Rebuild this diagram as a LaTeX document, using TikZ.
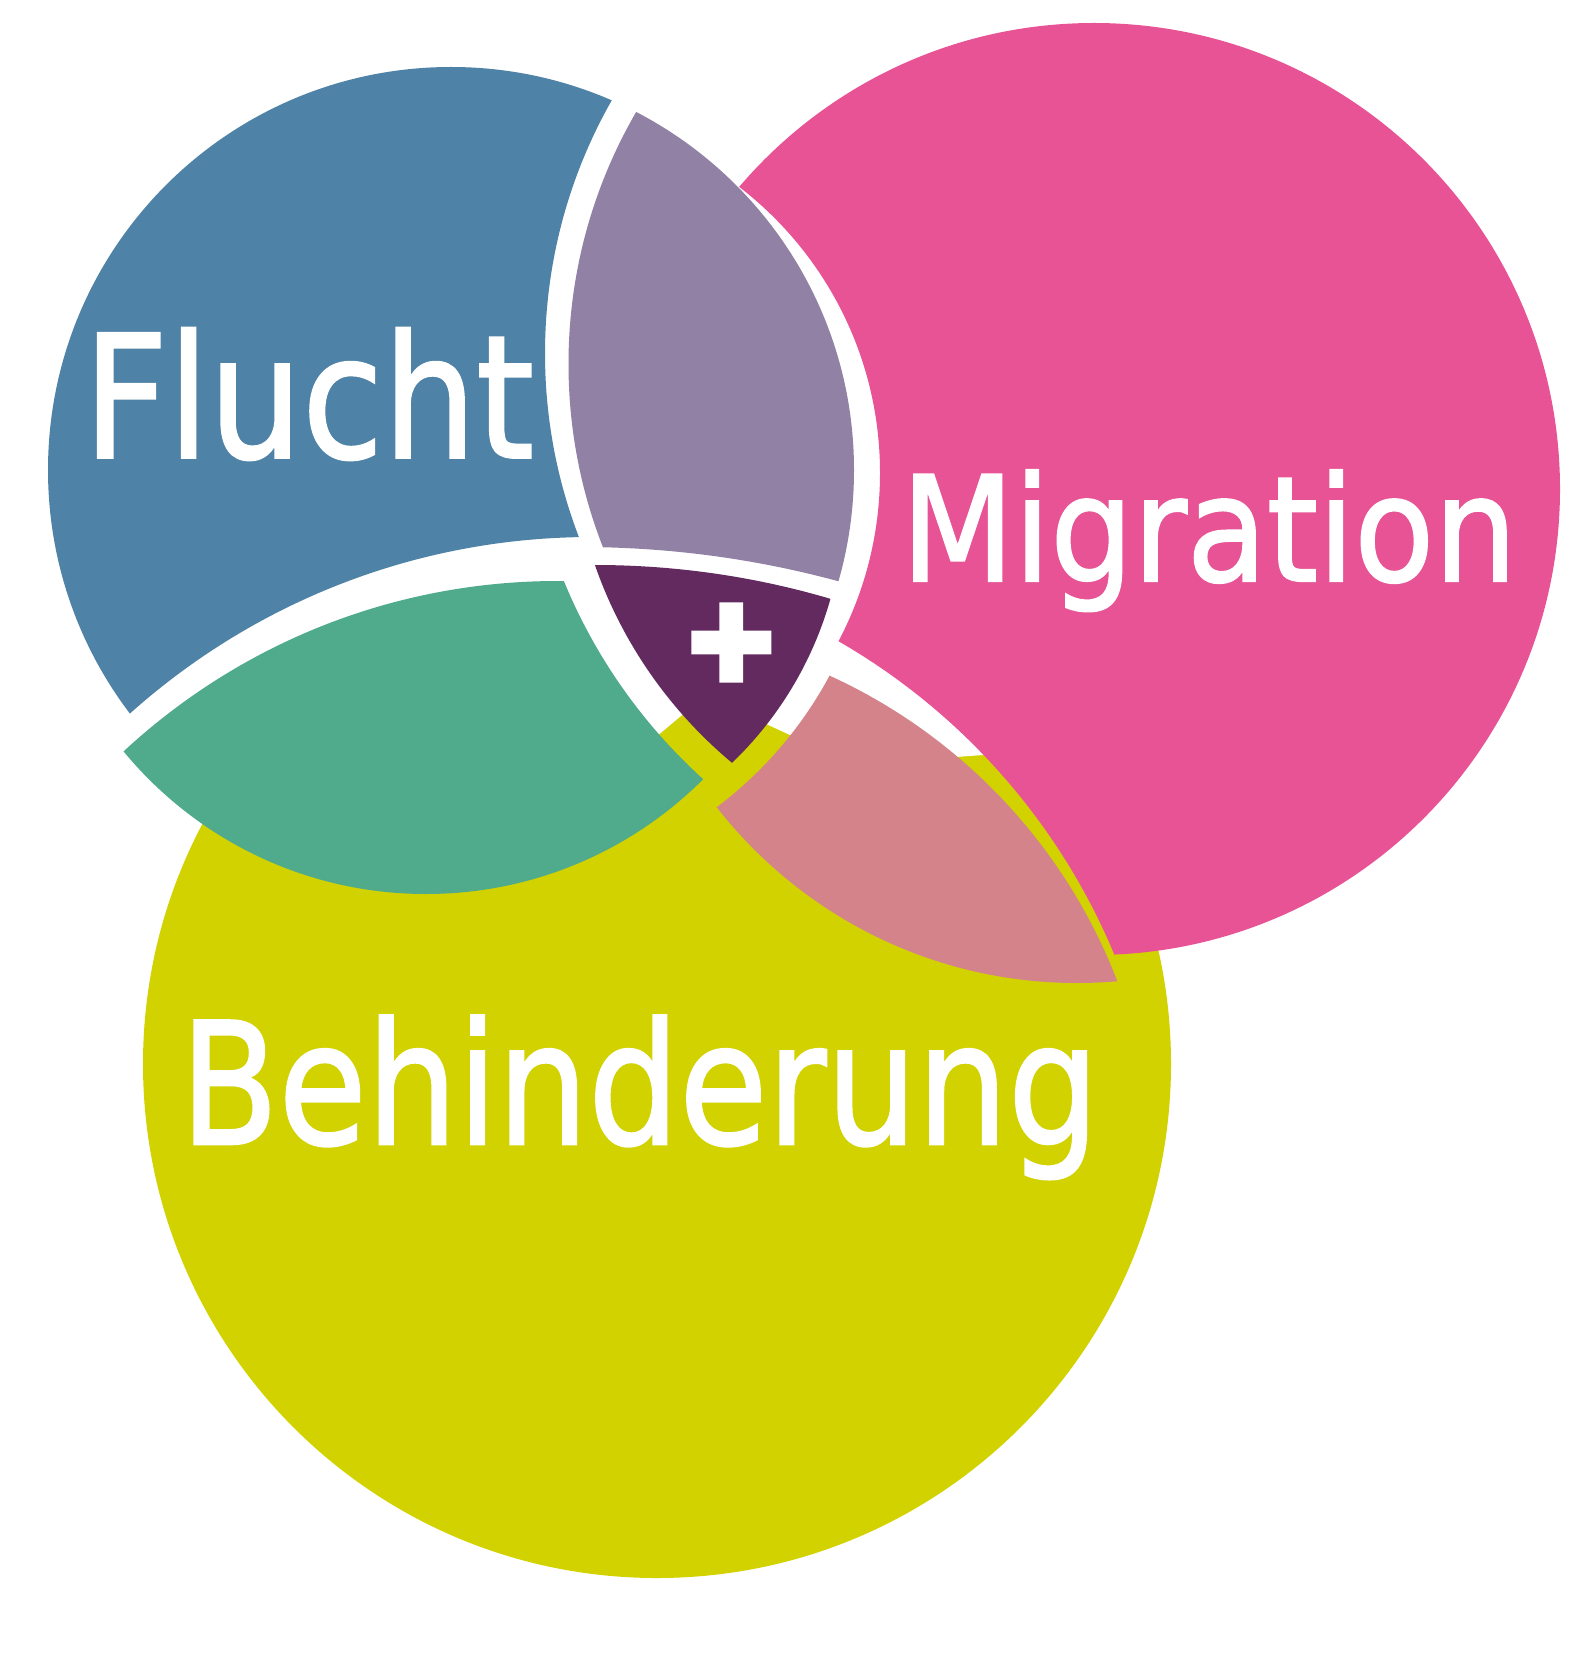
\documentclass[tikz,border=0pt]{standalone}
\usepackage{fontspec}
\newfontfamily\lblfont{DejaVu Sans}[FakeBold=1.5]
\newfontfamily\plusfont{DejaVu Sans}[FakeBold=10]
\definecolor{cyellow}{HTML}{D1D200}
\definecolor{cblue}{HTML}{4E82A6}
\definecolor{cpurple}{HTML}{9182A5}
\definecolor{cpink}{HTML}{E85395}
\definecolor{cgreen}{HTML}{50AA8C}
\definecolor{csalmon}{HTML}{D5838A}
\definecolor{cdark}{HTML}{632A5F}
\newcommand\outclip[3]{\clip (-100,-100) -- (1700,-100) -- (1700,1800) -- (-100,1800) -- cycle (#1+#3,#2) arc[start angle=0,end angle=-360,radius=#3] -- cycle;}
\newcommand\inclip[3]{\clip (#1,#2) circle[radius=#3];}
\newcommand\paintall[1]{\fill[#1] (-100,-100) rectangle (1700,1800);}
\tikzset{lbl/.style={text=white, inner sep=0pt, anchor=base}}
\begin{document}
\begin{tikzpicture}[x=0.5pt,y=-0.5pt]
\useasboundingbox (0,0) rectangle (1585,1658);
% Behinderung disc
\fill[cyellow] (657,1064) circle[radius=514];
% white gaps over the yellow disc
\fill[white] (-10,-10) -- (1110,-10) -- (1110,700) -- (1000,720) -- (983.3,755) -- (951.7,757.3) -- (900,790) -- (790,735) -- (768.3,725) -- (731,700) -- (683.3,714) -- (658.3,735) -- (400,700) -- (124,751) -- (-10,745) -- cycle;
% Flucht only
\begin{scope}
\inclip{451}{470}{403}
\outclip{1057.5}{353.4}{512.5}
\outclip{592}{1230}{693}
\paintall{cblue}
\end{scope}
% Migration only
\begin{scope}
\inclip{1094}{489}{466}
\outclip{519}{473}{361}
\outclip{515}{1204}{649}
\paintall{cpink}
\end{scope}
% Flucht and Migration
\begin{scope}
\inclip{451}{470}{403}
\inclip{1071}{364}{502.5}
\outclip{580}{1532}{985}
\paintall{cpurple}
\end{scope}
% Flucht and Behinderung
\begin{scope}
\inclip{558}{1220}{639}
\inclip{426}{502}{392}
\outclip{1071}{373}{548}
\paintall{cgreen}
\end{scope}
% Migration and Behinderung
\begin{scope}
\inclip{600}{1180}{554}
\inclip{1077}{526}{457}
\outclip{475}{486}{402}
\paintall{csalmon}
\end{scope}
% all three
\begin{scope}
\inclip{595}{1396}{831}
\inclip{1020}{417}{450}
\inclip{479.5}{500}{364.5}
\paintall{cdark}
\end{scope}
\node[lbl, font=\lblfont\fontsize{85.4}{85}\selectfont] (flucht) at (308.7,457.7) {\scalebox{0.861}[1]{Flucht}};
\node[lbl, font=\lblfont\fontsize{73}{73}\selectfont] (migration) at (1209.1,581) {\scalebox{0.894}[1]{Migration}};
\node[lbl, font=\lblfont\fontsize{84.7}{85}\selectfont] (behinderung) at (639.6,1144) {\scalebox{0.846}[1]{Behinderung}};
\node[text=white, inner sep=0pt, anchor=center, font=\plusfont\bfseries\fontsize{55}{55}\selectfont] (plus) at (731.3,642.5) {+};
\end{tikzpicture}
\end{document}
